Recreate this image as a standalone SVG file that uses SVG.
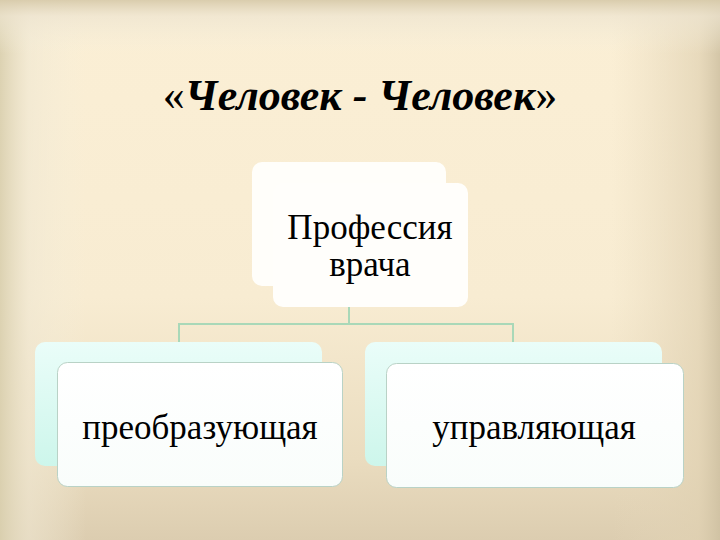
<svg xmlns="http://www.w3.org/2000/svg" width="720" height="540" viewBox="0 0 720 540">
  <defs>
    <linearGradient id="bgV" x1="0" y1="0" x2="0" y2="1">
      <stop offset="0" stop-color="#fbefd5"/>
      <stop offset="0.55" stop-color="#f8ecd2"/>
      <stop offset="0.85" stop-color="#eadcbf"/>
      <stop offset="1" stop-color="#dccdb0"/>
    </linearGradient>
    <linearGradient id="bgH" x1="0" y1="0" x2="1" y2="0">
      <stop offset="0" stop-color="#d9cfae" stop-opacity="0.9"/>
      <stop offset="0.04" stop-color="#efe7d2" stop-opacity="0.6"/>
      <stop offset="0.12" stop-color="#f5efdc" stop-opacity="0"/>
      <stop offset="0.85" stop-color="#e6d8bb" stop-opacity="0"/>
      <stop offset="0.97" stop-color="#e0d1b2" stop-opacity="0.7"/>
      <stop offset="1" stop-color="#cfc1a2" stop-opacity="0.9"/>
    </linearGradient>
    <linearGradient id="bgTop" x1="0" y1="0" x2="0" y2="1">
      <stop offset="0" stop-color="#d8cbab" stop-opacity="0.95"/>
      <stop offset="0.03" stop-color="#ede4d0" stop-opacity="0.7"/>
      <stop offset="0.1" stop-color="#f4eedb" stop-opacity="0"/>
      <stop offset="1" stop-color="#f4eedb" stop-opacity="0"/>
    </linearGradient>
    <linearGradient id="cyan" x1="0" y1="0" x2="0" y2="1">
      <stop offset="0" stop-color="#eafdf9"/>
      <stop offset="1" stop-color="#cdf6eb"/>
    </linearGradient>
    <linearGradient id="white" x1="0" y1="0" x2="0" y2="1">
      <stop offset="0" stop-color="#ffffff"/>
      <stop offset="1" stop-color="#f9fdfb"/>
    </linearGradient>
  </defs>
  <style>
    .back { fill: url(#cyan); }
    .backw { fill: #fffefa; }
    .front { fill: url(#white); stroke: #b9d2c6; stroke-width: 1; }
    .frontw { fill: #fffefb; }
    .conn { fill: none; stroke: #a9d8b8; stroke-width: 2; }
    .lbl { font-family: "Liberation Serif", "DejaVu Serif", serif; font-size: 35px; fill: #000; text-anchor: middle; }
    .title { font-family: "Liberation Serif", "DejaVu Serif", serif; font-size: 44px; font-weight: bold; font-style: italic; fill: #000; text-anchor: middle; }
  </style>

  <rect x="0" y="0" width="720" height="540" fill="url(#bgV)"/>
  <rect x="0" y="0" width="720" height="540" fill="url(#bgH)"/>
  <rect x="0" y="0" width="720" height="540" fill="url(#bgTop)"/>

  <text class="title" x="360" y="110"><tspan font-weight="normal" font-style="normal">«</tspan>Человек - Человек<tspan font-weight="normal" font-style="normal">»</tspan></text>

  <g id="connectors">
    <path class="conn" d="M349,307 V324 M179,324 H513 M179,323 V343 M513,323 V343"/>
  </g>

  <g id="node-top">
    <rect class="backw" x="252" y="162" width="194" height="124" rx="10"/>
    <rect class="frontw" x="273" y="183" width="195" height="124" rx="10"/>
    <text class="lbl" x="370" y="239">Профессия</text>
    <text class="lbl" x="370" y="276">врача</text>
  </g>

  <g id="node-left">
    <rect class="back" x="35" y="342" width="287" height="124" rx="10"/>
    <rect class="front" x="57.5" y="362.5" width="285" height="124" rx="10"/>
    <text class="lbl" x="200" y="439">преобразующая</text>
  </g>

  <g id="node-right">
    <rect class="back" x="365" y="342" width="297" height="124" rx="10"/>
    <rect class="front" x="386.5" y="363.5" width="297" height="124" rx="10"/>
    <text class="lbl" x="534" y="439">управляющая</text>
  </g>
</svg>
